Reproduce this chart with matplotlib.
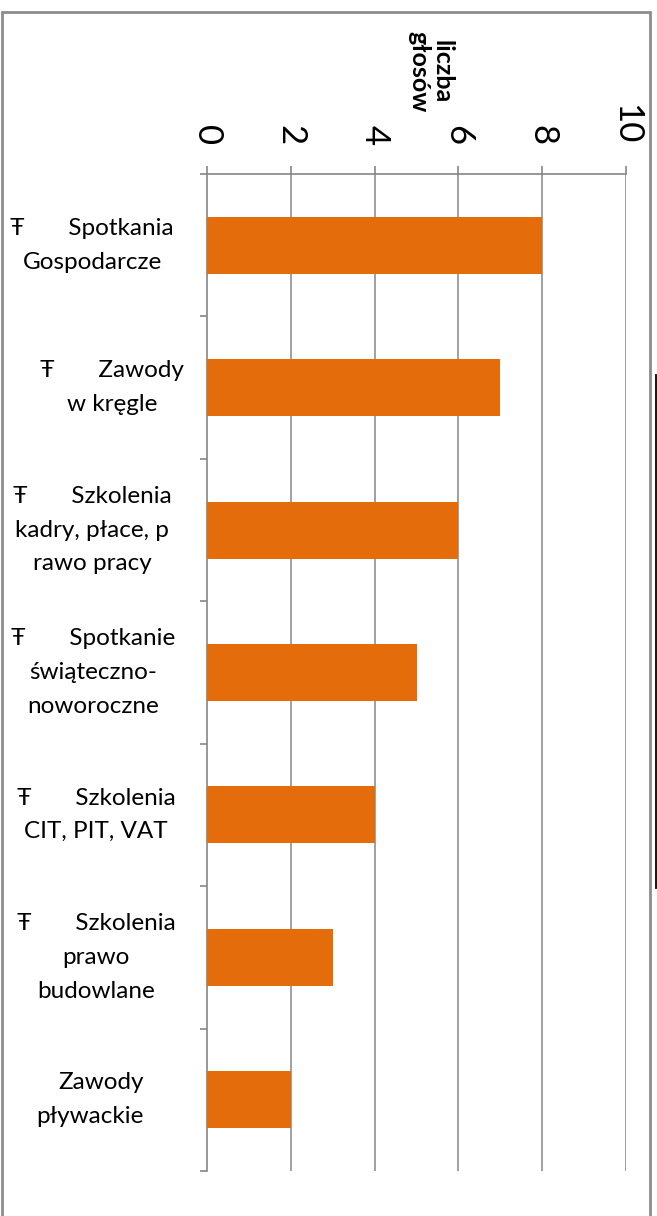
import matplotlib
matplotlib.use("Agg")
import matplotlib.pyplot as plt
import matplotlib.transforms as mtransforms
from matplotlib.lines import Line2D
from matplotlib.patches import Rectangle

plt.rcParams['font.family'] = ['Lato', 'DejaVu Sans']

# data
categories = [
    "Ŧ       Spotkania\nGospodarcze",
    "Ŧ       Zawody\nw kręgle",
    "Ŧ       Szkolenia\nkadry, płace, p\nrawo pracy",
    "Ŧ       Spotkanie\nświąteczno-\nnoworoczne",
    "Ŧ       Szkolenia\nCIT, PIT, VAT",
    "Ŧ       Szkolenia\nprawo\nbudowlane",
    "Zawody\npływackie",
]
votes = [8, 7, 6, 5, 4, 3, 2]
xticks = [0, 2, 4, 6, 8, 10]
axis_title = "liczba\ngłosów"

W, H = 657, 1216
fig = plt.figure(figsize=(W / 100, H / 100), dpi=100)

# plot area in pixels: x 207..626, y 174..1171
left, right, top, bottom = 207, 626, 174, 1171
ax = fig.add_axes([left / W, 1 - bottom / H, (right - left) / W, (bottom - top) / H])

grey = '#868686'
orange = '#E46C0A'

ypos = list(range(len(categories)))
ax.barh(ypos, votes, height=0.4, color=orange, zorder=3)

ax.set_xlim(0, 10)
ax.set_ylim(len(categories) - 0.5, -0.5)
ax.set_xticks(xticks)
ax.xaxis.tick_top()
ax.tick_params(axis='x', labelrotation=-90, labelsize=25, length=6, width=1.2,
               color=grey, pad=15, labelcolor='black')
for x in xticks[1:]:
    ax.axvline(x, color=grey, lw=1.1, zorder=1)

ax.set_yticks([])
ax.set_yticks([i - 0.5 for i in range(len(categories) + 1)], minor=True)
ax.tick_params(axis='y', which='minor', length=5, width=1.2, color=grey)

for s in ['right', 'bottom']:
    ax.spines[s].set_visible(False)
for s in ['top', 'left']:
    ax.spines[s].set_color(grey)
    ax.spines[s].set_linewidth(1.2)

# category labels (centre x in pixels per label, as wrapped in the source)
lab_px = [92, 112, 92, 93, 96, 96, 144]
trans = mtransforms.blended_transform_factory(ax.transAxes, ax.transData)
for i, (lab, px) in enumerate(zip(categories, lab_px)):
    xa = (px - left) / (right - left)
    last = i == len(categories) - 1
    ax.text(xa, i, lab, transform=trans, ha='right' if last else 'center',
            va='center', multialignment='right' if last else 'center',
            fontsize=17.5, linespacing=1.75, clip_on=False)

fig.text(430 / W, 1 - 72 / H, axis_title, rotation=-90, ha='center', va='center',
         multialignment='center', fontsize=18, fontweight='bold', linespacing=1.0)

# chart-area border (open at the bottom) and the stray black line at the right
fig.patches.append(Rectangle((1.5 / W, -0.05), (650 - 1.5) / W, 1.05 - 12 / H,
                             transform=fig.transFigure, fill=False,
                             edgecolor='#8c8c8c', lw=2))
fig.lines.append(Line2D([655.8 / W, 655.8 / W], [1 - 375 / H, 1 - 888 / H],
                        transform=fig.transFigure, color='black', lw=1.3))

fig.savefig("out.png", dpi=100)
